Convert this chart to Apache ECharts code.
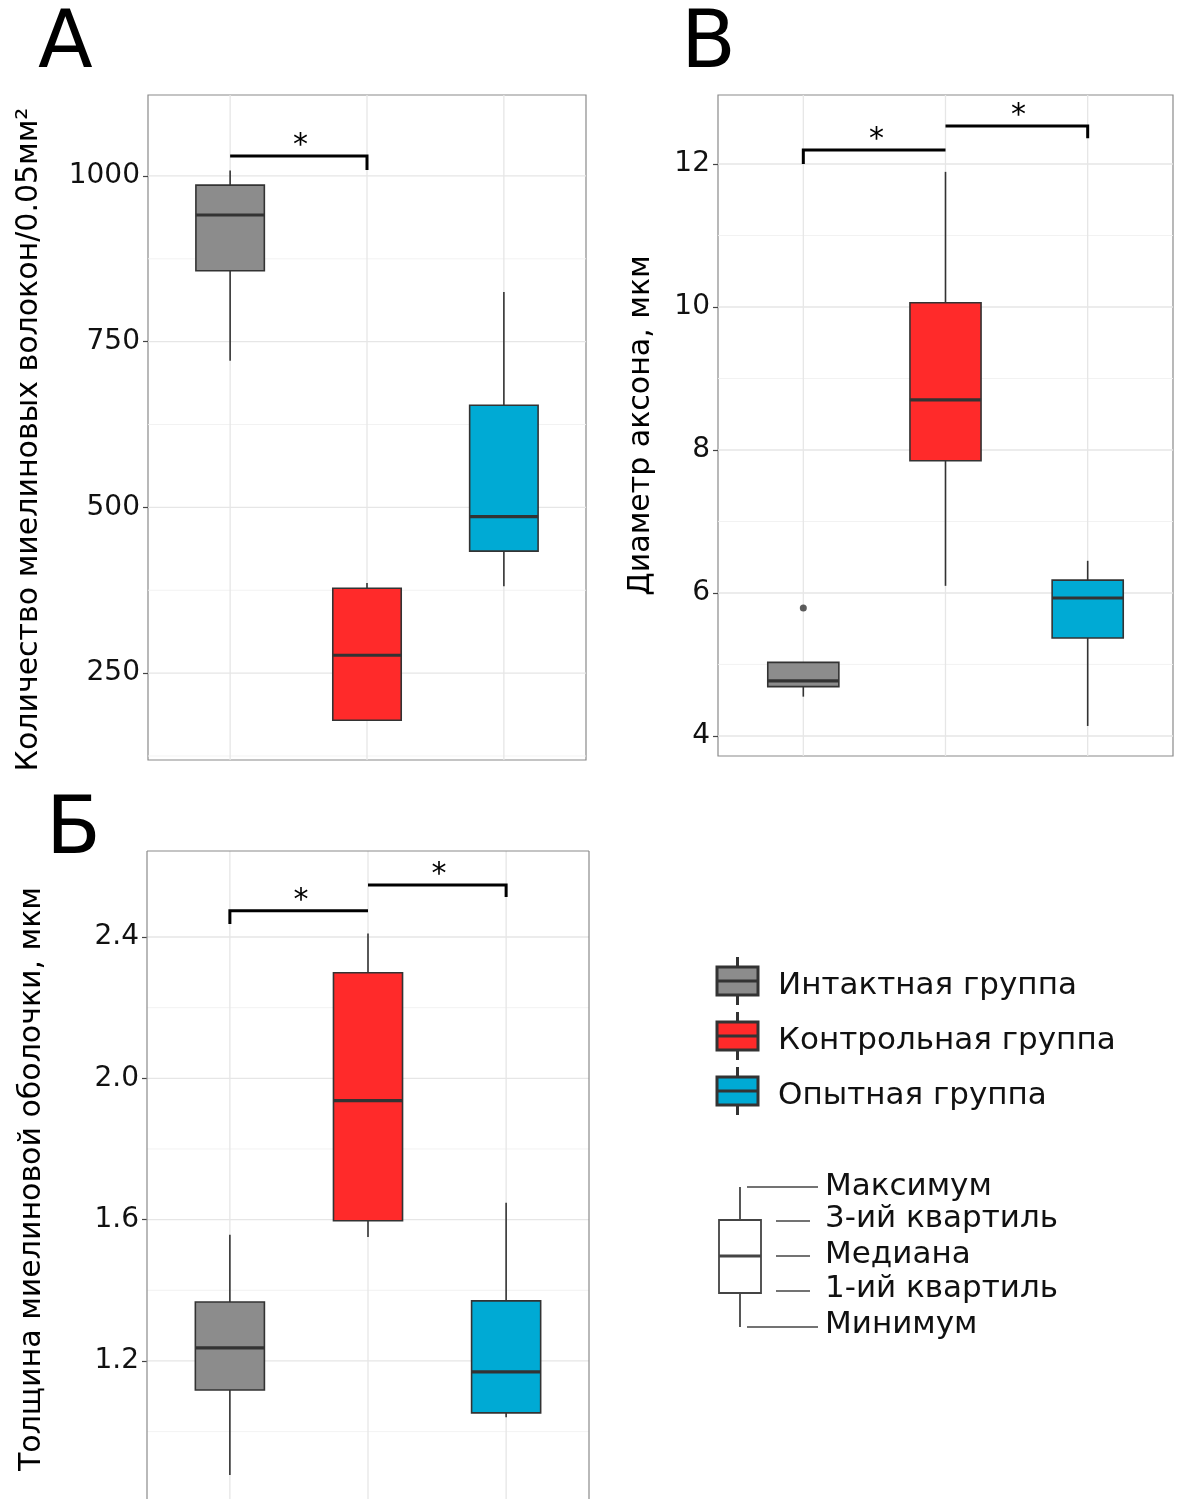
<!DOCTYPE html>
<html><head><meta charset="utf-8">
<script src="https://cdn.jsdelivr.net/npm/echarts@6/dist/echarts.min.js"></script>
<style>html,body{margin:0;padding:0;background:#fff}#c{width:1177px;height:1499px}</style>
</head><body><div id="c"></div>
<script>
// ---- data ----
const groups = ['Интактная группа', 'Контрольная группа', 'Опытная группа'];
// box stats: [min, Q1, median, Q3, max]
const fibersA = [[721, 857, 941, 986, 1008], [178, 179, 277, 378, 386], [381, 434, 486, 654, 825]];
const axonB = [[4.55, 4.69, 4.77, 5.03, 5.03], [6.10, 7.85, 8.70, 10.06, 11.89], [4.14, 5.37, 5.93, 6.18, 6.45]];
const axonOutliers = [[1, 5.79]];
const sheathC = [[0.877, 1.118, 1.237, 1.367, 1.557], [1.551, 1.597, 1.937, 2.299, 2.41], [1.041, 1.053, 1.169, 1.37, 1.648]];
const ticksA = [250, 500, 750, 1000];
const minorA = [125, 375, 625, 875];
const ticksB = [4, 6, 8, 10, 12];
const minorB = [5, 7, 9, 11];
const ticksC = [1.2, 1.6, 2.0, 2.4];
const minorC = [1.0, 1.4, 1.8, 2.2];
// brackets: [x1, x2, lineValue, dropEndValue, dropSide(0 left, 1 right)]
const bracketsA = [[1, 2, 1030, 1009, 1]];
const bracketsB = [[1, 2, 12.196, 12.0, 0], [2, 3, 12.53, 12.36, 1]];
const bracketsC = [[1, 2, 2.474, 2.437, 0], [2, 3, 2.547, 2.513, 1]];
const titleA = 'Количество миелиновых волокон/0.05мм²';
const titleB = 'Диаметр аксона, мкм';
const titleC = 'Толщина миелиновой оболочки, мкм';
const legendBox = ['Максимум', '3-ий квартиль', 'Медиана', '1-ий квартиль', 'Минимум'];

// ---- styles ----
const fills = ['#8c8c8c', '#ff2a2a', '#00aad4'];
const FONT = 'DejaVu Sans';
const edge = '#333333';
const frameColor = '#8a8a8a';

const chart = echarts.init(document.getElementById('c'), null, {renderer: 'canvas'});

function boxRender(params, api) {
  const x = api.value(0);
  const lo = api.coord([x, api.value(1)]);
  const q1 = api.coord([x, api.value(2)]);
  const md = api.coord([x, api.value(3)]);
  const q3 = api.coord([x, api.value(4)]);
  const hi = api.coord([x, api.value(5)]);
  const w = api.size([0.5, 0])[0];
  const cx = lo[0];
  return {type: 'group', children: [
    {type: 'line', shape: {x1: cx, y1: lo[1], x2: cx, y2: q1[1]}, style: {stroke: edge, lineWidth: 1.6}},
    {type: 'line', shape: {x1: cx, y1: q3[1], x2: cx, y2: hi[1]}, style: {stroke: edge, lineWidth: 1.6}},
    {type: 'rect', shape: {x: cx - w / 2, y: q3[1], width: w, height: q1[1] - q3[1]}, style: {fill: fills[params.dataIndex], stroke: edge, lineWidth: 1.6}},
    {type: 'line', shape: {x1: cx - w / 2, y1: md[1], x2: cx + w / 2, y2: md[1]}, style: {stroke: edge, lineWidth: 3.2}}
  ]};
}

// kind 0: horizontal grid line, kind 1: vertical grid line, kind 2: frame side (0 left, 1 right, 2 top)
function gridRender(params, api) {
  const cs = params.coordSys;
  const kind = api.value(0), v = api.value(1), major = api.value(2);
  const style = {stroke: major ? '#e6e6e6' : '#f0f0f0', lineWidth: major ? 1.3 : 0.9};
  if (kind === 0) {
    const y = api.coord([1, v])[1];
    if (y < cs.y || y > cs.y + cs.height) return;
    return {type: 'line', shape: {x1: cs.x, y1: y, x2: cs.x + cs.width, y2: y}, style};
  } else if (kind === 1) {
    const x = api.coord([v, 0])[0];
    return {type: 'line', shape: {x1: x, y1: cs.y, x2: x, y2: cs.y + cs.height}, style};
  } else {
    const fs = {stroke: frameColor, lineWidth: 1.2};
    if (v === 0) return {type: 'line', z2: 50, shape: {x1: cs.x, y1: cs.y, x2: cs.x, y2: cs.y + cs.height + 5}, style: fs};
    if (v === 1) return {type: 'line', z2: 50, shape: {x1: cs.x + cs.width, y1: cs.y, x2: cs.x + cs.width, y2: cs.y + cs.height + 5}, style: fs};
    return {type: 'line', z2: 50, shape: {x1: cs.x, y1: cs.y, x2: cs.x + cs.width, y2: cs.y}, style: fs};
  }
}

function bracketRender(params, api) {
  const x1 = api.value(0), x2 = api.value(1), yv = api.value(2), yd = api.value(3), side = api.value(4);
  const a = api.coord([x1, yv]), b = api.coord([x2, yv]);
  const d = api.coord([side ? x2 : x1, yd]);
  const pts = side ? [[a[0], a[1]], [b[0], b[1]], [d[0], d[1]]] : [[d[0], d[1]], [a[0], a[1]], [b[0], b[1]]];
  return {type: 'group', children: [
    {type: 'polyline', shape: {points: pts}, style: {stroke: '#000', lineWidth: 3, fill: null}},
    {type: 'text', x: (a[0] + b[0]) / 2 + 2, y: a[1] + 5, style: {text: '*', font: '30px "' + FONT + '"', fill: '#000', align: 'center', verticalAlign: 'bottom'}}
  ]};
}

function gridData(ticks, minor, frame) {
  const d = [];
  minor.forEach(v => d.push([0, v, 0]));
  ticks.forEach(v => d.push([0, v, 1]));
  [1, 2, 3].forEach(v => d.push([1, v, 1]));
  if (frame) [0, 1, 2].forEach(v => d.push([2, v, 1]));
  return d;
}

function boxData(stats) { return stats.map((s, i) => [i + 1].concat(s)); }

const grids = [
  {left: 148, top: 95, width: 438, height: 665, show: true},
  {left: 718, top: 95, width: 455, height: 661, show: true},
  {left: 147, top: 851, width: 442, height: 648, show: false}
];
const yCfg = [
  {min: 119, max: 1122, ticks: ticksA, name: titleA, gap: 104, pad: [0, 24, 0, 0]},
  {min: 3.72, max: 12.965, ticks: ticksB, name: titleB, gap: 62, pad: 0},
  {min: 0.8093, max: 2.6434, ticks: ticksC, name: titleC, gap: 100, pad: [0, 8, 0, 0]}
];

const option = {
  animation: false,
  backgroundColor: '#fff',
  textStyle: {fontFamily: FONT},
  grid: grids.map(g => Object.assign({borderColor: frameColor, borderWidth: 1.2, backgroundColor: 'transparent', containLabel: false}, g)),
  xAxis: grids.map((g, i) => ({type: 'value', gridIndex: i, min: 0.4, max: 3.6,
    axisLine: {show: false}, axisTick: {show: false}, axisLabel: {show: false}, splitLine: {show: false}})),
  yAxis: yCfg.map((c, i) => ({type: 'value', gridIndex: i, min: c.min, max: c.max,
    name: c.name, nameLocation: 'middle', nameRotate: 90, nameGap: c.gap,
    nameTextStyle: {fontFamily: FONT, fontSize: 30, color: '#000', padding: c.pad},
    axisLine: {show: false},
    axisTick: {show: true, length: 5, customValues: c.ticks, lineStyle: {color: '#444', width: 1.2}},
    axisLabel: {customValues: c.ticks, fontFamily: FONT, fontSize: 28, color: '#111', margin: 8,
      formatter: v => (i === 2 ? v.toFixed(1) : String(v))},
    splitLine: {show: false}})),
  series: [
    {type: 'custom', xAxisIndex: 0, yAxisIndex: 0, z: 1, silent: true, renderItem: gridRender, data: gridData(ticksA, minorA, false)},
    {type: 'custom', xAxisIndex: 1, yAxisIndex: 1, z: 1, silent: true, renderItem: gridRender, data: gridData(ticksB, minorB, false)},
    {type: 'custom', xAxisIndex: 2, yAxisIndex: 2, z: 1, silent: true, clip: false, renderItem: gridRender, data: gridData(ticksC, minorC, true)},
    {type: 'custom', xAxisIndex: 0, yAxisIndex: 0, z: 3, renderItem: boxRender, data: boxData(fibersA)},
    {type: 'custom', xAxisIndex: 1, yAxisIndex: 1, z: 3, renderItem: boxRender, data: boxData(axonB)},
    {type: 'custom', xAxisIndex: 2, yAxisIndex: 2, z: 3, renderItem: boxRender, data: boxData(sheathC)},
    {type: 'scatter', xAxisIndex: 1, yAxisIndex: 1, z: 4, symbolSize: 7, itemStyle: {color: edge}, data: axonOutliers},
    {type: 'custom', xAxisIndex: 0, yAxisIndex: 0, z: 4, renderItem: bracketRender, data: bracketsA},
    {type: 'custom', xAxisIndex: 1, yAxisIndex: 1, z: 4, renderItem: bracketRender, data: bracketsB},
    {type: 'custom', xAxisIndex: 2, yAxisIndex: 2, z: 4, renderItem: bracketRender, data: bracketsC}
  ],
  graphic: []
};

// panel letters
const letters = [['A', 38, 6], ['B', 681, 6], ['Б', 46, 792]];
letters.forEach(l => option.graphic.push({type: 'text', x: l[1], y: l[2], style: {text: l[0], font: '80px "' + FONT + '"', fill: '#000', verticalAlign: 'top'}}));

// group legend
const legTop = [967, 1022, 1077];
groups.forEach((g, i) => {
  const y0 = legTop[i], h = 28, xL = 717, w = 41, cx = xL + w / 2;
  option.graphic.push(
    {type: 'line', shape: {x1: cx, y1: y0 - 10, x2: cx, y2: y0 + h + 10}, style: {stroke: edge, lineWidth: 3}},
    {type: 'rect', shape: {x: xL, y: y0, width: w, height: h}, style: {fill: fills[i], stroke: edge, lineWidth: 3}},
    {type: 'line', shape: {x1: xL, y1: y0 + h / 2, x2: xL + w, y2: y0 + h / 2}, style: {stroke: edge, lineWidth: 3}},
    {type: 'text', x: 778, y: y0 + h / 2 + 5, style: {text: g, font: '31px "' + FONT + '"', fill: '#111', verticalAlign: 'middle'}}
  );
});

// boxplot explanation
const ex = {x: 719, w: 42, top: 1220, med: 1256, bot: 1293, max: 1187, min: 1327};
const exCx = ex.x + ex.w / 2;
option.graphic.push(
  {type: 'line', shape: {x1: exCx, y1: ex.max, x2: exCx, y2: ex.top}, style: {stroke: '#444', lineWidth: 1.8}},
  {type: 'line', shape: {x1: exCx, y1: ex.bot, x2: exCx, y2: ex.min}, style: {stroke: '#444', lineWidth: 1.8}},
  {type: 'rect', shape: {x: ex.x, y: ex.top, width: ex.w, height: ex.bot - ex.top}, style: {fill: '#fff', stroke: '#444', lineWidth: 1.8}},
  {type: 'line', shape: {x1: ex.x, y1: ex.med, x2: ex.x + ex.w, y2: ex.med}, style: {stroke: '#444', lineWidth: 3.2}}
);
const exLines = [[747, 818, 1187], [776, 810, 1221], [776, 810, 1256], [776, 810, 1291], [747, 818, 1327]];
const exTextY = [1187, 1219, 1255, 1289, 1325];
legendBox.forEach((t, i) => {
  const l = exLines[i];
  option.graphic.push(
    {type: 'line', shape: {x1: l[0], y1: l[2], x2: l[1], y2: l[2]}, style: {stroke: '#444', lineWidth: 1.4}},
    {type: 'text', x: 825, y: exTextY[i], style: {text: t, font: '31px "' + FONT + '"', fill: '#111', verticalAlign: 'middle'}}
  );
});

chart.setOption(option);
</script></body></html>
